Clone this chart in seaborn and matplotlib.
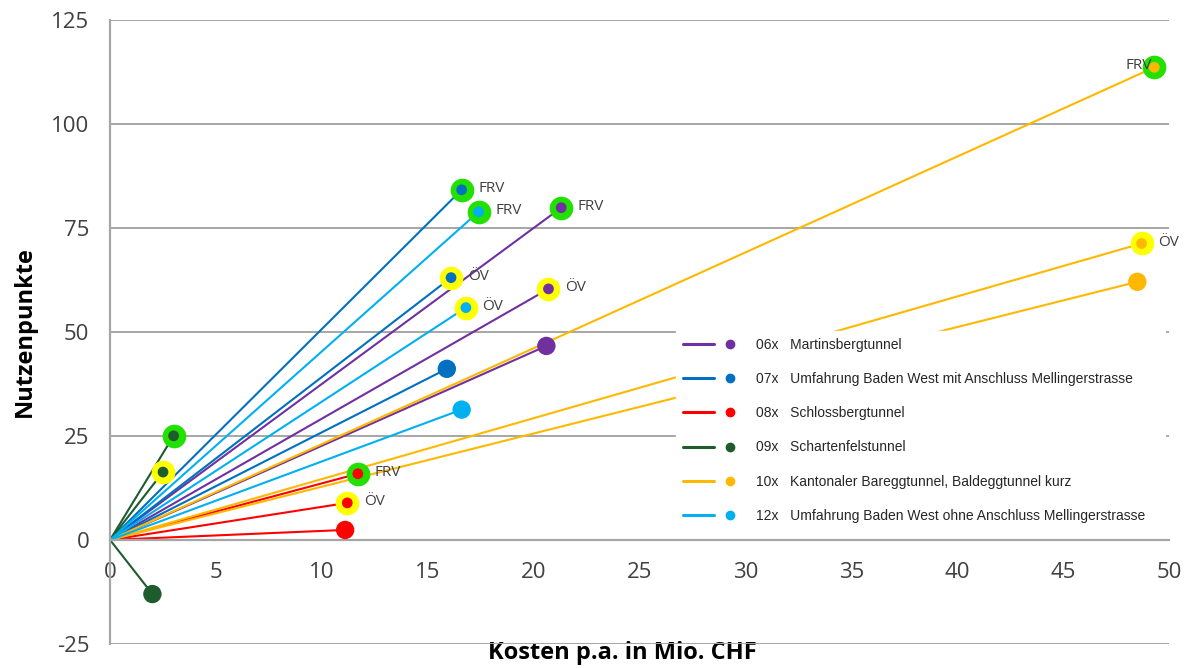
import numpy as np
import pandas as pd
import seaborn as sns
import matplotlib.pyplot as plt
from matplotlib.lines import Line2D
from matplotlib.legend_handler import HandlerTuple

# data
projekte = ["06x", "07x", "08x", "09x", "10x", "12x"]
namen = ["Martinsbergtunnel",
         "Umfahrung Baden West mit Anschluss Mellingerstrasse",
         "Schlossbergtunnel",
         "Schartenfelstunnel",
         "Kantonaler Bareggtunnel, Baldeggtunnel kurz",
         "Umfahrung Baden West ohne Anschluss Mellingerstrasse"]
farben = ["#7030A0", "#0070C0", "#FF0000", "#1E5C2E", "#FFB800", "#00B0F0"]

kosten_basis = [20.6, 15.9, 11.1, 2.0, 48.5, 16.6]
nutzen_basis = [46.6, 41.1, 2.4, -13.0, 62.0, 31.3]
kosten_oev = [20.7, 16.1, 11.2, 2.5, 48.7, 16.8]
nutzen_oev = [60.3, 63.0, 8.9, 16.3, 71.2, 55.8]
kosten_frv = [21.3, 16.6, 11.7, 3.0, 49.3, 17.4]
nutzen_frv = [79.8, 84.1, 15.9, 25.0, 113.5, 78.8]
mit_label = ["06x", "07x", "08x", "10x", "12x"]

pts = pd.concat([
    pd.DataFrame({"projekt": projekte, "kosten": kosten_basis, "nutzen": nutzen_basis, "variante": "Basis"}),
    pd.DataFrame({"projekt": projekte, "kosten": kosten_oev, "nutzen": nutzen_oev, "variante": "ÖV"}),
    pd.DataFrame({"projekt": projekte, "kosten": kosten_frv, "nutzen": nutzen_frv, "variante": "FRV"}),
], ignore_index=True)
pts["seg"] = np.arange(len(pts))

# each line starts at the origin
origin = pts.copy()
origin["kosten"] = 0.0
origin["nutzen"] = 0.0
lines = pd.concat([origin, pts], ignore_index=True)

pal = dict(zip(projekte, farben))

sns.set_style("white")
plt.rcParams["font.family"] = ["Open Sans", "DejaVu Sans"]
plt.rcParams["axes.unicode_minus"] = False

fig = plt.figure(figsize=(11.91, 6.68), dpi=100)
ax = fig.add_axes([0.0924, 0.0359, 0.8892, 0.9349])

sns.lineplot(data=lines, x="kosten", y="nutzen", hue="projekt", units="seg",
             estimator=None, sort=False, palette=pal, linewidth=1.5,
             legend=False, ax=ax, zorder=2)

oev = pts[pts.variante == "ÖV"]
frv = pts[pts.variante == "FRV"]
basis = pts[pts.variante == "Basis"]
sns.scatterplot(data=oev, x="kosten", y="nutzen", color="#FFFF00", s=290,
                linewidth=0, legend=False, ax=ax, zorder=3)
sns.scatterplot(data=frv, x="kosten", y="nutzen", color="#22E000", s=290,
                linewidth=0, legend=False, ax=ax, zorder=3)
sns.scatterplot(data=pts[pts.variante != "Basis"], x="kosten", y="nutzen",
                hue="projekt", palette=pal, s=60, linewidth=0, legend=False,
                ax=ax, zorder=4)
sns.scatterplot(data=basis, x="kosten", y="nutzen", hue="projekt", palette=pal,
                s=175, linewidth=0, legend=False, ax=ax, zorder=4)

for _, r in pts[(pts.variante != "Basis") & pts.projekt.isin(mit_label)].iterrows():
    if r.projekt == "10x" and r.variante == "FRV":
        ax.annotate(r.variante, (r.kosten, r.nutzen), xytext=(-2, 1),
                    textcoords="offset points", ha="right", va="center",
                    fontsize=11, color="#404040", zorder=5)
    else:
        ax.annotate(r.variante, (r.kosten, r.nutzen), xytext=(12, 1),
                    textcoords="offset points", ha="left", va="center",
                    fontsize=11, color="#404040", zorder=5)

ax.set_xlim(0, 50)
ax.set_ylim(-25, 125)
ax.set_xticks(range(0, 51, 5))
ax.set_yticks(range(-25, 126, 25))
ax.yaxis.grid(True, color="#A6A6A6", linewidth=1.4)
ax.set_axisbelow(True)
for s in ["top", "right"]:
    ax.spines[s].set_visible(False)
ax.spines["left"].set_color("#A6A6A6")
ax.spines["left"].set_linewidth(1.6)
ax.spines["bottom"].set_position(("data", 0))
ax.spines["bottom"].set_color("#A6A6A6")
ax.spines["bottom"].set_linewidth(1.6)
ax.tick_params(axis="y", length=5, width=1.4, color="#A6A6A6", pad=10,
               labelsize=16, labelcolor="#404040")
ax.tick_params(axis="x", length=6, width=1.4, color="#A6A6A6", pad=10,
               labelsize=16, labelcolor="#404040")

ax.set_ylabel("Nutzenpunkte", fontsize=17, fontweight="bold", color="black")
ax.yaxis.set_label_coords(-0.069, 0.5)
ax.set_xlabel("Kosten p.a. in Mio. CHF", fontsize=17, fontweight="bold", color="black",
              va="center", bbox=dict(fc="white", ec="none", pad=1))
ax.xaxis.set_label_coords(0.484, -0.015)

handles = [(Line2D([], [], color=c, lw=2.2),
            Line2D([], [], color=c, marker="o", ls="", ms=6)) for c in farben]
labels = [f"{p}   {n}" for p, n in zip(projekte, namen)]
leg = ax.legend(handles, labels, handler_map={tuple: HandlerTuple(ndivide=2, pad=0)},
                loc="upper left", bbox_to_anchor=(0.534, 0.401, 0.462, 0.1),
                mode="expand", borderaxespad=0, frameon=True, fancybox=False,
                handlelength=4.6, handletextpad=0.7, labelspacing=1.45,
                borderpad=0.5, prop={"family": "Liberation Sans", "size": 10})
leg.get_frame().set_facecolor("white")
leg.get_frame().set_edgecolor("white")
leg.get_frame().set_alpha(1)
leg.set_zorder(10)

fig.savefig("out.png", dpi=100)
